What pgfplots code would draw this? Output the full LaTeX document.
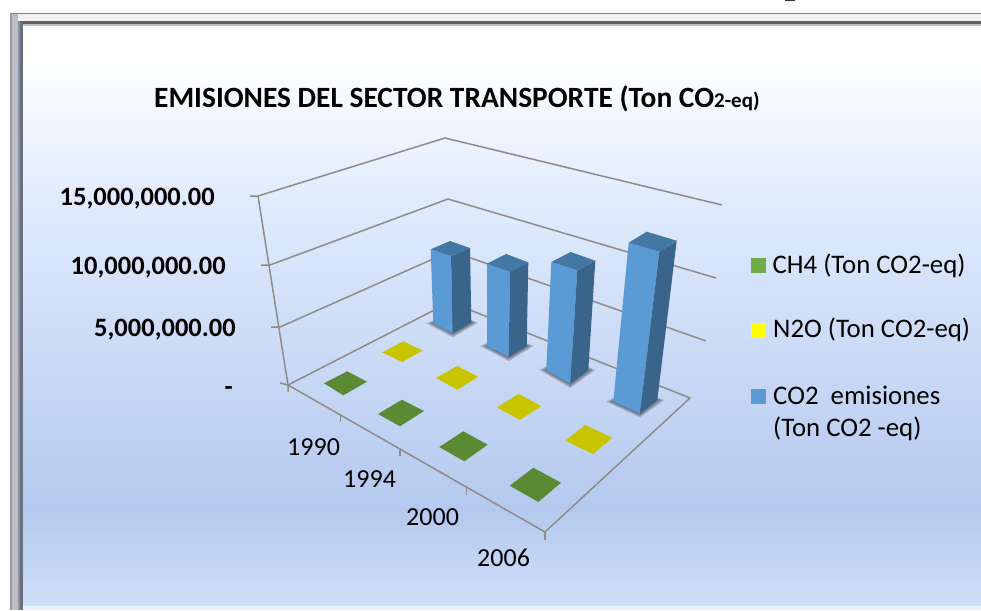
\documentclass[border=0pt]{standalone}
\usepackage{fontspec}
\setmainfont{Carlito}
\usepackage{pgfplots}
\pgfplotsset{compat=1.18}
\definecolor{gridc}{HTML}{8F8B88}
\definecolor{barF}{HTML}{5B9BD5}
\definecolor{barS}{HTML}{39658B}
\definecolor{barT}{HTML}{4478A4}
\definecolor{ygr}{HTML}{C8C400}
\definecolor{grn}{HTML}{5B8A35}
\definecolor{botstrip}{HTML}{E8F3FE}
\definecolor{frA}{HTML}{9A9EA4}
\definecolor{frB}{HTML}{BCC0C6}
\definecolor{frC}{HTML}{8A92A0}
\definecolor{frD}{HTML}{667080}
\definecolor{lgG}{HTML}{70AD47}
\definecolor{lgY}{HTML}{FFFF00}
\pgfdeclareverticalshading{bgshade}{100bp}{
 color(0bp)=(rgb,255:red,207;green,223;blue,248);
 color(25bp)=(rgb,255:red,207;green,223;blue,248);
 color(33.3bp)=(rgb,255:red,181;green,201;blue,239);
 color(60bp)=(rgb,255:red,224;green,235;blue,253);
 color(72bp)=(rgb,255:red,255;green,255;blue,255);
 color(100bp)=(rgb,255:red,255;green,255;blue,255)}
% Axis coordinates are the reference's pixel positions (y downward): the
% perspective view cannot be expressed by pgfplots' affine 3D axes.
\newcommand{\poly}[2]{\addplot[draw=none,fill=#1,no markers,forget plot] coordinates {#2} --cycle;}
\newcommand{\gl}[1]{\addplot[gridc,line width=1.5pt,no markers,forget plot] coordinates {#1};}
\newcommand{\shd}[7]{\addplot[draw=none,fill=black,fill opacity=0.18,no markers,forget plot] coordinates {(#1-#7,#2) (#3,#4+0.6*#7) (#5+#7,#6) (#1+#5-#3,#2+#6-#4)} --cycle;}
\newcommand{\shds}[6]{\shd{#1}{#2}{#3}{#4}{#5}{#6}{7}\shd{#1}{#2}{#3}{#4}{#5}{#6}{4.5}\shd{#1}{#2}{#3}{#4}{#5}{#6}{2}}
\newcommand{\sz}[1]{\fontsize{#1}{#1}\selectfont}
\newcommand{\txt}[4]{\node[anchor=#1,inner sep=0pt] at (axis cs:#2,#3) {#4};}
\begin{document}
\begin{tikzpicture}
\begin{axis}[anchor=south west,at={(0pt,0pt)},scale only axis,width=981pt,height=610pt,xmin=0,xmax=981,ymin=0,ymax=610,y dir=reverse,hide axis,clip=true]
% background and frame
\shade[shading=bgshade] (axis cs:23,26) rectangle (axis cs:981,606);
\fill[botstrip] (axis cs:23,606) rectangle (axis cs:981,610);
\fill[black!5] (axis cs:10,14) rectangle (axis cs:981,21);
\fill[black!50] (axis cs:10,13) rectangle (axis cs:981,14);
\fill[black!62] (axis cs:18,21) rectangle (axis cs:981,24);
\fill[black!25] (axis cs:18,24) rectangle (axis cs:981,26);
\fill[frA] (axis cs:10,13) rectangle (axis cs:12,610);
\fill[frB] (axis cs:12,14) rectangle (axis cs:18,610);
\fill[frC] (axis cs:18,21) rectangle (axis cs:20,610);
\fill[frD] (axis cs:20,22) rectangle (axis cs:23,610);
% cut-off letter at the top of the page
\fill[black!80] (axis cs:785,0) rectangle (axis cs:795,1.5);
% walls
\gl{(250,196) (258,196) (445,138) (722,205)}
\gl{(258,196) (288,385)}
\gl{(261,265) (270,265) (448,199) (716,278)}
\gl{(271,327) (280,327) (451,251) (706,341)}
% floor
\gl{(280,383) (288,385) (450,302) (690,398) (545,532) (288,385) (288,392)}
\gl{(340.7,415) (340.7,422)}
\gl{(400,449) (400,456)}
\gl{(466.7,487) (466.7,495)}
\gl{(545,532) (545,540)}
% CH4 (flat)
\poly{grn}{(324,383.3) (347.3,371.3) (367,381.7) (343.3,395.3)}
\poly{grn}{(378,414) (402,399.7) (424,411) (400,426.3)}
\poly{grn}{(439.3,447) (463.3,431.3) (487.7,444.7) (464.3,461.3)}
\poly{grn}{(509.7,485.7) (533.3,467.7) (561,482.7) (538.3,502)}
% N2O (flat)
\poly{ygr}{(382.3,352.3) (403.3,341.3) (422.7,350.7) (402,362)}
\poly{ygr}{(436,378) (457.3,366) (478.3,376.7) (457.3,389.7)}
\poly{ygr}{(497,407.3) (518.3,394) (541.3,406) (520,420)}
\poly{ygr}{(565.3,440.7) (585,425) (612.3,437.7) (593.3,454)}
% CO2 bars
\shds{433.3}{323.3}{452.7}{333.3}{471.3}{322.7}
\poly{barF}{(430.7,249.3) (451,256) (452.7,333.3) (433.3,323.3)}
\poly{barS}{(451,256) (470,248) (471.3,322.7) (452.7,333.3)}
\poly{barT}{(430.7,249.3) (450,241) (470,248) (451,256)}
\shds{487}{346}{508.7}{357}{526.7}{346}
\poly{barF}{(487,263.7) (510,271.7) (508.7,357) (487,346)}
\poly{barS}{(510,271.7) (528.3,262.3) (526.7,346) (508.7,357)}
\poly{barT}{(487,263.7) (506,254) (528.3,262.3) (510,271.7)}
\shds{546.3}{370}{570.3}{383.7}{588.3}{370}
\poly{barF}{(551.3,262) (577.3,270.3) (570.3,383.7) (546.3,370)}
\poly{barS}{(577.3,270.3) (595.3,260.7) (588.3,370) (570.3,383.7)}
\poly{barT}{(551.3,262) (570.7,252) (595.3,260.7) (577.3,270.3)}
\shds{613.3}{401.7}{640}{413.3}{657.3}{400}
\poly{barF}{(628.7,242.7) (659.3,251.7) (640,413.3) (613.3,401.7)}
\poly{barS}{(659.3,251.7) (676.7,240.7) (657.3,400) (640,413.3)}
\poly{barT}{(628.7,242.7) (646.7,231.7) (676.7,240.7) (659.3,251.7)}
% legend swatches
\poly{lgG}{(751,258) (766,258) (766,273) (751,273)}
\poly{lgY}{(751,323.3) (766,323.3) (766,337.7) (751,337.7)}
\poly{barF}{(751,389) (766,389) (766,404) (751,404)}
% texts
\txt{base west}{154}{107.7}{\sz{29.4}\bfseries EMISIONES DEL SECTOR TRANSPORTE (Ton CO{\sz{21}2-eq)}}
\txt{base east}{215}{205}{\sz{26.5}\bfseries 15,000,000.00}
\txt{base east}{226}{274}{\sz{26.5}\bfseries 10,000,000.00}
\txt{base east}{236}{336}{\sz{26.5}\bfseries 5,000,000.00}
\txt{base east}{233}{395}{\sz{26.5}\bfseries -}
\txt{base west}{287}{455.7}{\sz{26}1990}
\txt{base west}{343}{487.7}{\sz{26}1994}
\txt{base west}{406}{525}{\sz{26}2000}
\txt{base west}{477}{566}{\sz{26}2006}
\txt{base west}{772.5}{273}{\sz{26.8}CH4 (Ton CO2-eq)}
\txt{base west}{773}{337.7}{\sz{26.8}N2O (Ton CO2-eq)}
\txt{base west}{773}{404}{\sz{26.8}CO2~ emisiones}
\txt{base west}{773}{436.7}{\sz{26.8}(Ton CO2 -eq)}
\end{axis}
\pgfresetboundingbox
\path[use as bounding box] (0pt,0pt) rectangle (981pt,610pt);
\end{tikzpicture}
\end{document}
